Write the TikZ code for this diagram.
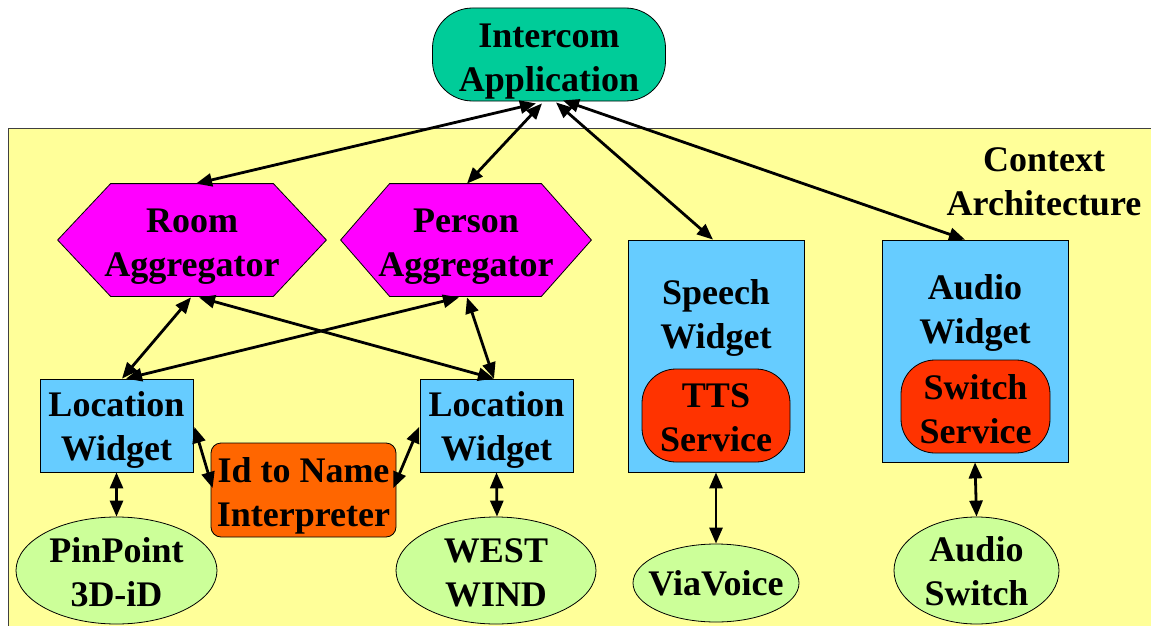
\documentclass[tikz,border=0pt]{standalone}
\usepackage{fontspec}
\setmainfont{Liberation Serif}
\usetikzlibrary{shapes.geometric,arrows.meta,calc,backgrounds}
\definecolor{bgyellow}{HTML}{FFFF99}
\definecolor{appgreen}{HTML}{00CC99}
\definecolor{aggmag}{HTML}{FF00FF}
\definecolor{widblue}{HTML}{66CCFF}
\definecolor{interp}{HTML}{FF6600}
\definecolor{servred}{HTML}{FF3300}
\definecolor{srclime}{HTML}{CCFF99}
\tikzset{
  txt/.style={font=\bfseries\fontsize{36}{44}\selectfont, align=center, inner sep=0pt},
  tx/.style n args={2}{label={[txt,yshift=#1]center:{#2}}},
  shp/.style={inner sep=0pt, line width=0.8pt},
  appnode/.style={shp, draw=black, fill=appgreen, rounded corners=40pt},
  hexnode/.style={shp},
  widgetnode/.style={shp, draw=black, fill=widblue},
  interpnode/.style={shp, draw=black, fill=interp, rounded corners=10pt},
  servnode/.style={shp, draw=black, fill=servred, rounded corners=34pt},
  srcnode/.style={shp, ellipse, draw=black, fill=srclime},
  link/.style={line width=2.8pt, {Triangle[length=16pt,width=13pt]}-{Triangle[length=16pt,width=13pt]}},
  hexfill/.style={fill=aggmag, draw=black, line width=0.8pt}
}
\begin{document}
\begin{tikzpicture}[x=1pt,y=-1pt]
\useasboundingbox (0,0) rectangle (1151,626);
\begin{pgfonlayer}{background}
\fill[white] (0,0) rectangle (1151,626);
\fill[bgyellow, draw=black!75, line width=0.8pt] (8,128) rectangle (1165,640);
\end{pgfonlayer}

% nodes
\node[appnode, minimum width=233pt, minimum height=93pt, tx={-7.5pt}{Intercom\\Application}] (intercom) at (549,54.5) {};
\node[hexnode, minimum width=268pt, minimum height=112pt, tx={-7pt}{Room\\Aggregator}] (room) at (192,240) {};
\node[hexnode, minimum width=250pt, minimum height=112pt, tx={-7pt}{Person\\Aggregator}] (person) at (466,240) {};
\node[widgetnode, minimum width=153pt, minimum height=93pt, tx={-4pt}{Location\\Widget}] (locL) at (116.5,425.5) {};
\node[widgetnode, minimum width=153pt, minimum height=93pt, tx={-4pt}{Location\\Widget}] (locR) at (496.5,425.5) {};
\node[interpnode, minimum width=185pt, minimum height=94pt, tx={-6pt}{Id to Name\\Interpreter}] (idname) at (303.5,490) {};
\node[widgetnode, minimum width=176pt, minimum height=232pt] (speech) at (716,356) {};
\node[txt] (speechlbl) at (716,318) {Speech\\Widget};
\node[servnode, minimum width=148pt, minimum height=93pt, tx={-2pt}{TTS\\Service}] (tts) at (716,415.5) {};
\node[widgetnode, minimum width=186pt, minimum height=222pt] (audio) at (975,351) {};
\node[txt] (audiolbl) at (975,313) {Audio\\Widget};
\node[servnode, minimum width=149pt, minimum height=93pt, tx={-3pt}{Switch\\Service}] (switch) at (975.5,406.5) {};
\node[srcnode, minimum width=201pt, minimum height=107pt, tx={-2pt}{PinPoint\\3D-iD}] (pinpoint) at (116.5,570.5) {};
\node[srcnode, minimum width=200pt, minimum height=107pt, tx={-2pt}{WEST\\WIND}] (west) at (496,570.5) {};
\node[srcnode, minimum width=166pt, minimum height=78pt] (viavoice) at (716,583) {};
\node[txt] (viavoicelbl) at (716,583) {ViaVoice};
\node[srcnode, minimum width=165pt, minimum height=107pt, tx={-1pt}{Audio\\Switch}] (audiosw) at (976.5,570.5) {};
\node[txt] (ctx) at (1044,182) {Context\\Architecture};

% hexagon outlines
\begin{pgfonlayer}{background}
\path[hexfill] (room.west) -- ($(room.north west)+(53,0)$) -- ($(room.north east)+(-53,0)$) -- (room.east)
  -- ($(room.south east)+(-53,0)$) -- ($(room.south west)+(53,0)$) -- cycle;
\path[hexfill] (person.west) -- ($(person.north west)+(49,0)$) -- ($(person.north east)+(-50,0)$) -- (person.east)
  -- ($(person.south east)+(-50,0)$) -- ($(person.south west)+(49,0)$) -- cycle;
\end{pgfonlayer}

% connectors
\draw[link] ($(intercom.south)+(-13,2)$) -- ($(room.north)+(4,0)$);
\draw[link] ($(intercom.south)+(-7,2)$) -- ($(person.north)+(1,0)$);
\draw[link] ($(intercom.south)+(7,1)$) -- ($(speech.north)+(-3,0)$);
\draw[link] ($(intercom.south)+(14,-1)$) -- ($(audio.north)+(-10,0)$);
\draw[link] ($(room.south)+(-1,1)$) -- ($(locL.north)+(5.5,0)$);
\draw[link] ($(room.south)+(7,1)$) -- ($(locR.north)+(-2.5,0)$);
\draw[link] ($(person.south)+(-7,1)$) -- ($(locL.north)+(9.5,0)$);
\draw[link] ($(person.south)+(1,1)$) -- ($(locR.north)+(-2.5,0)$);
\draw[link] ($(locL.east)+(1,1.5)$) -- ($(idname.west)+(2,-2)$);
\draw[link] ($(locR.west)+(-0.5,1.5)$) -- ($(idname.east)+(-3,-2)$);
\draw[link] (locL.south) -- (pinpoint.north);
\draw[link] (locR.south) -- ($(west.north)+(1,0)$);
\draw[link] (speech.south) -- (viavoice.north);
\draw[link] (audio.south) -- (audiosw.north);
\end{tikzpicture}
\end{document}
